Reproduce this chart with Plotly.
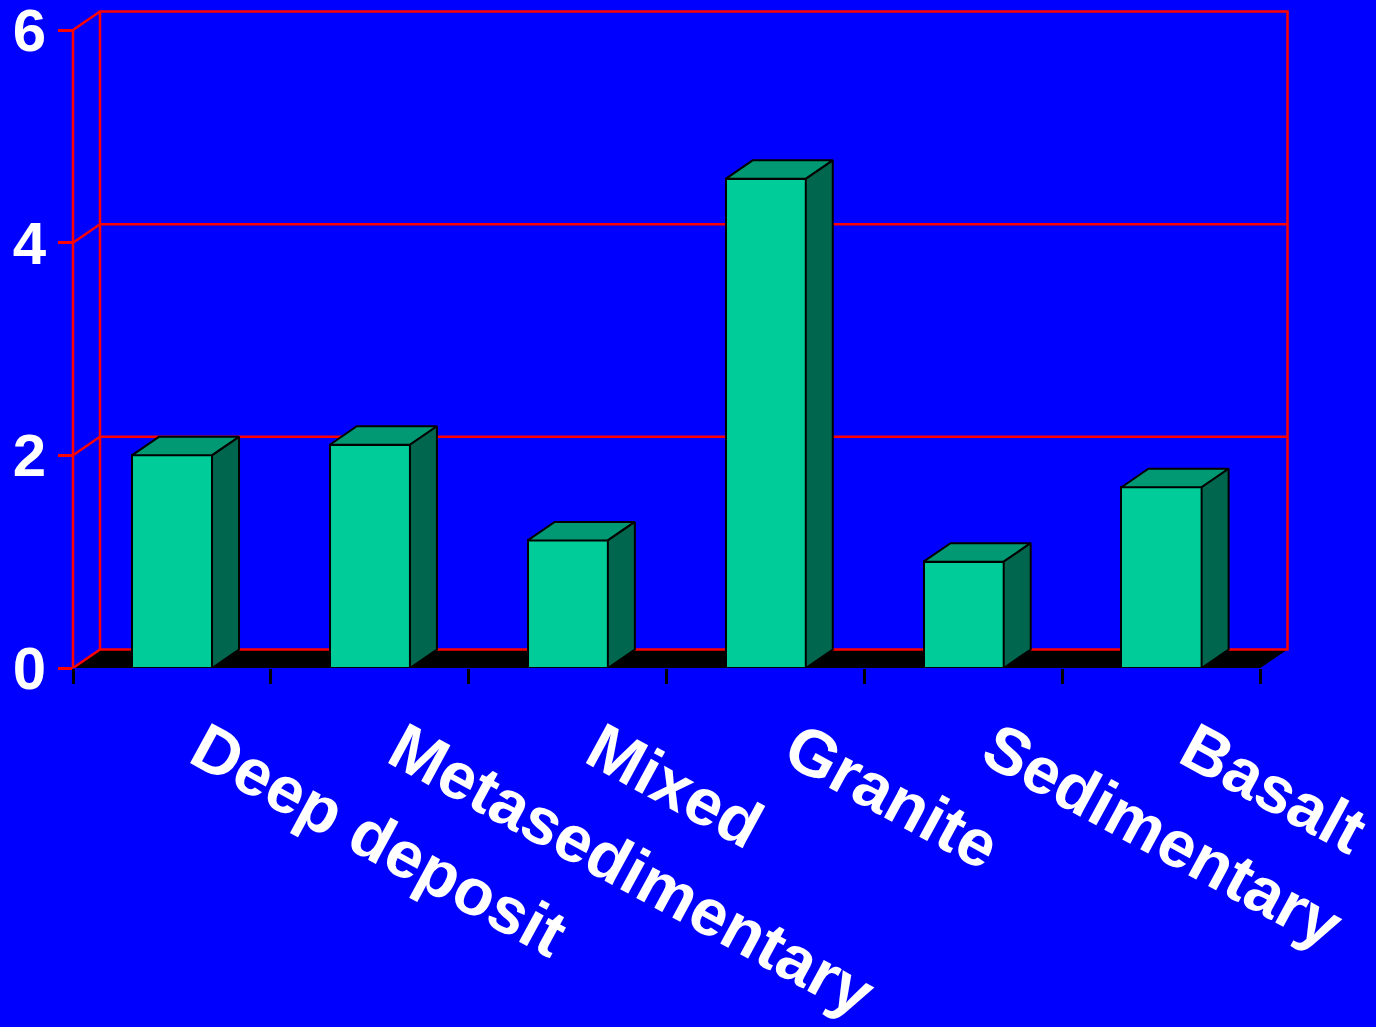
import plotly.graph_objects as go

# ---- data ----
categories = ["Deep deposit", "Metasedimentary", "Mixed", "Granite", "Sedimentary", "Basalt"]
values = [2.0, 2.1, 1.2, 4.6, 1.0, 1.7]
y_ticks = [0, 2, 4, 6]

# ---- styling ----
BG = "#0000FF"
WALL = "#FF0000"
FRONT = "#00CC99"
TOP = "#009973"
SIDE = "#00664D"
EDGE = "black"
YFONT = dict(family="Liberation Sans, Arial, sans-serif", size=60, color="white", weight="bold")
XFONT = dict(family="Liberation Sans, Arial, sans-serif", size=66, color="white", weight="bold")

# pixel geometry of the plotting box (front plane + depth offset)
W, H = 1376, 1027
PX_LEFT, PX_RIGHT = 73.0, 1260.5      # x = -0.5 and x = 5.5 on the front plane
PX_Y0, PX_Y6 = 668.0, 30.0            # y = 0 and y = 6 on the front plane
DEPTH_X, DEPTH_Y = 27.0, 18.5         # receding offset of the back wall, px
PLOT_L, PLOT_R, PLOT_T = 69, 1292, 7

n = len(categories)
sx = (PX_RIGHT - PX_LEFT) / n
sy = (PX_Y0 - PX_Y6) / 6.0
DX = DEPTH_X / sx
DY = DEPTH_Y / sy
x_range = [-0.5 - (PX_LEFT - PLOT_L) / sx, n - 0.5 + (PLOT_R - PX_RIGHT) / sx]
y_range = [0, 6 + (PX_Y6 - PLOT_T) / sy]
ymax_axis = max(y_ticks)
BAR_W = 0.405

fig = go.Figure()

# front faces of the columns
fig.add_trace(go.Bar(
    x=list(range(n)), y=values, width=BAR_W, base=0,
    marker=dict(color=FRONT, line=dict(color=EDGE, width=2)),
    hoverinfo="skip", showlegend=False,
))

# top and side faces
for i, v in enumerate(values):
    l, r = i - BAR_W / 2, i + BAR_W / 2
    fig.add_trace(go.Scatter(
        x=[l, r, r + DX, l + DX, l], y=[v, v, v + DY, v + DY, v],
        mode="lines", fill="toself", fillcolor=TOP,
        line=dict(color=EDGE, width=2), hoverinfo="skip", showlegend=False,
    ))
    fig.add_trace(go.Scatter(
        x=[r, r + DX, r + DX, r, r], y=[0, DY, v + DY, v, 0],
        mode="lines", fill="toself", fillcolor=SIDE,
        line=dict(color=EDGE, width=2), hoverinfo="skip", showlegend=False,
    ))

# invisible trace so the boundary-tick axis is created
fig.add_trace(go.Scatter(x=[0], y=[0], xaxis="x2", mode="markers",
                         marker=dict(opacity=0), hoverinfo="skip", showlegend=False))

xl, xr = -0.5, n - 0.5
LW = 2.5
shapes = []
# floor
shapes.append(dict(type="path", xref="x", yref="y", layer="below",
                   path=f"M{xl},0 L{xr},0 L{xr + DX},{DY} L{xl + DX},{DY} Z",
                   fillcolor="black", line=dict(width=0)))
# back wall outline and gridlines
shapes.append(dict(type="path", xref="x", yref="y", layer="below",
                   path=f"M{xl + DX},{DY} L{xr + DX},{DY} L{xr + DX},{ymax_axis + DY} "
                        f"L{xl + DX},{ymax_axis + DY} Z",
                   line=dict(color=WALL, width=LW)))
for t in y_ticks[1:-1]:
    shapes.append(dict(type="line", xref="x", yref="y", layer="below",
                       x0=xl + DX, x1=xr + DX, y0=t + DY, y1=t + DY,
                       line=dict(color=WALL, width=LW)))
# side wall lines
for t in y_ticks:
    shapes.append(dict(type="line", xref="x", yref="y", layer="below",
                       x0=xl, x1=xl + DX, y0=t, y1=t + DY,
                       line=dict(color=WALL, width=LW)))
# front value axis line
shapes.append(dict(type="line", xref="x", yref="y", layer="below",
                   x0=xl, x1=xl, y0=0, y1=ymax_axis,
                   line=dict(color=WALL, width=LW)))

fig.update_layout(
    width=W, height=H,
    margin=dict(l=PLOT_L, r=W - PLOT_R, t=PLOT_T, b=H - int(PX_Y0), autoexpand=False),
    paper_bgcolor=BG, plot_bgcolor=BG,
    shapes=shapes,
    bargap=0,
    xaxis=dict(
        range=x_range, tickmode="array", tickvals=list(range(n)), ticktext=categories,
        tickangle=28.5, ticks="", showgrid=False, zeroline=False, showline=False,
        tickfont=XFONT, ticklabelstandoff=30, ticklabelshift=30,
        ticklabeloverflow="allow", automargin=False,
    ),
    xaxis2=dict(
        range=x_range, overlaying="x", side="bottom", anchor="y",
        tickmode="array", tickvals=[k - 0.5 for k in range(n + 1)],
        ticks="outside", ticklen=15, tickwidth=2.5, tickcolor=EDGE,
        showticklabels=False, showgrid=False, zeroline=False, showline=False,
        automargin=False,
    ),
    yaxis=dict(
        range=y_range, tickmode="array", tickvals=y_ticks,
        ticktext=[str(t) for t in y_ticks],
        anchor="free", position=(PX_LEFT - PLOT_L) / (PLOT_R - PLOT_L),
        ticks="outside", ticklen=15, tickwidth=2.5, tickcolor=WALL,
        showgrid=False, zeroline=False, showline=False, tickfont=YFONT,
        ticklabeloverflow="allow", automargin=False,
    ),
)

fig.write_html("out.html")
